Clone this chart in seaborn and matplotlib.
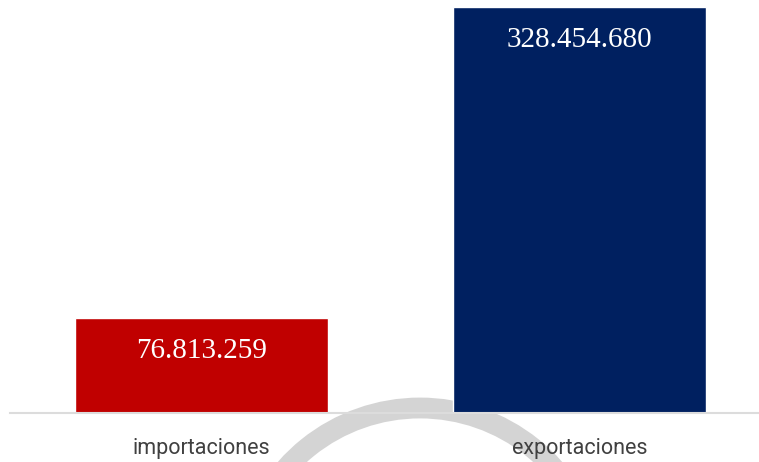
import matplotlib
matplotlib.use("Agg")
import matplotlib.pyplot as plt
from matplotlib.patches import Arc
import pandas as pd
import seaborn as sns

categorias = ["importaciones", "exportaciones"]
valores = [76813259, 328454680]
colores = ["#C00000", "#002060"]

df = pd.DataFrame({"categoria": categorias, "valor": valores})

sns.set_style("white")
plt.rcParams["font.family"] = ["Roboto", "DejaVu Sans"]

W, H = 759, 462
fig = plt.figure(figsize=(W / 100, H / 100), dpi=100)
ax = fig.add_axes([10 / W, 49 / H, 749 / W, 413 / H])
ax.patch.set_alpha(0)

# faded logo arc behind the bars
arc = Arc((420 / W, 1 - 587 / H), 2 * 179 / W, 2 * 179 / H, theta1=20, theta2=160,
          lw=15, color="#d4d4d4", transform=fig.transFigure, zorder=0.5, clip_on=False)
ax.add_artist(arc)

sns.barplot(data=df, x="categoria", y="valor", hue="categoria", palette=colores,
            width=0.67, legend=False, saturation=1, ax=ax, zorder=2)

x_left = -0.5066
ax.set_xlim(x_left, 1.4749)
ax.set_ylim(0, valores[1] * 413 / 406)

for i, v in enumerate(valores):
    txt = f"{v:,}".replace(",", ".")
    ax.text(i, v - valores[1] * 33 / 406, txt, ha="center", va="center",
            color="white", fontsize=21, family=["Liberation Serif"], zorder=3)

for s in ["top", "right", "left"]:
    ax.spines[s].set_visible(False)
ax.spines["bottom"].set_color("#dcdcdc")
ax.spines["bottom"].set_linewidth(1.5)
ax.spines["bottom"].set_zorder(2.5)
ax.set_yticks([])
ax.set_xlabel("")
ax.set_ylabel("")
ax.tick_params(axis="x", length=0, pad=18, labelsize=15.5, labelcolor="#404040")
ax.set_xticks([x_left], minor=True)
ax.tick_params(axis="x", which="minor", length=6, width=1.5, color="#dcdcdc", direction="out")

fig.savefig("out.png", dpi=100)
